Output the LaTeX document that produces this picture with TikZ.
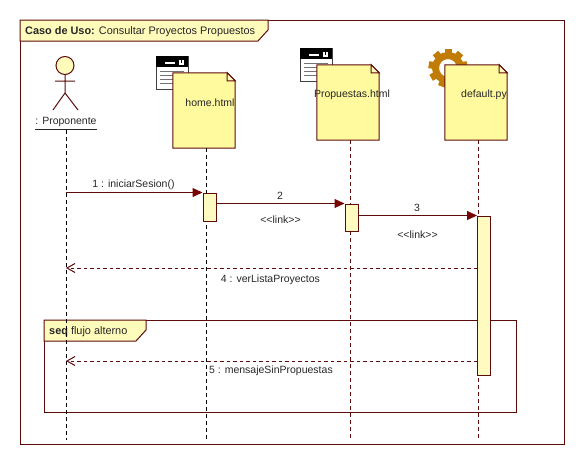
\documentclass[tikz,border=0pt]{standalone}
\usepackage{fontspec}
\setmainfont{Liberation Sans}
\usetikzlibrary{arrows.meta,calc}
\definecolor{umlline}{HTML}{5E0B0B}
\definecolor{umlhead}{HTML}{7A0404}
\definecolor{umlnote}{HTML}{FFFA9E}
\definecolor{umlbar}{HTML}{FFFBC0}
\definecolor{umlgear}{HTML}{C07C06}
\tikzset{
    every node/.style={font=\fontsize{10.5}{12}\selectfont,text=black!85,inner sep=0pt},
    tabtext/.style={font=\fontsize{10.9}{12}\selectfont,anchor=west},
    frameline/.style={draw=umlline,line width=1pt},
    tabbox/.style={frameline,fill=umlnote!70!white},
    lifeline/.style={dashed,dash pattern=on 3.5pt off 3.5pt,line width=1pt},
    notebox/.style={minimum width=62pt,minimum height=75pt},
    actbox/.style={frameline,fill=umlbar,minimum width=13pt},
    msgcall/.style={umlline,line width=1pt,-{Triangle[length=10pt,width=9pt,color=umlhead]}},
    msgback/.style={umlline,line width=1pt,dashed,dash pattern=on 3.5pt off 3pt,-{Straight Barb[length=8pt,width=9pt]}}
}
% window icon behind a note
\newcommand{\windowicon}[2]{
    \begin{scope}[shift={(#1,#2)}]
        \fill[white] (0,0) rectangle (32,33);
        \draw[black!75,line width=1pt] (0,0) rectangle (32,33);
        \fill[black] (0,0) rectangle (32,11);
        \draw[white,line width=1.4pt] (9,7) -- (19,7);
        \draw[white,line width=1.4pt] (24,4) -- (24,8) -- (27,8) -- (27,4);
        \foreach \ly in {15,19,23,27}
            \draw[black!55,line width=1pt] (4,\ly) -- (28,\ly);
    \end{scope}
}
\newcommand{\stereo}{{<}{<}link{>}{>}}
\begin{document}
\begin{tikzpicture}[x=1pt,y=-1pt]
    \useasboundingbox (0,0) rectangle (584,464);

    % outer frame and title tab
    \draw[frameline] (20,20) rectangle (564,444);
    \draw[tabbox] (20,20) -- (268,20) -- (268,30) -- (258,41) -- (20,41) -- cycle;
    \node[tabtext] (title) at (25,32) {\textbf{Caso de Uso:} Consultar Proyectos Propuestos};

    % fragment
    \draw[frameline] (44,320) rectangle (516,412);
    \draw[tabbox] (44,320) -- (146,320) -- (146,330) -- (136,341) -- (44,341) -- cycle;
    \node[tabtext] (seqtitle) at (49,332) {\textbf{seq} flujo alterno};

    % icons
    \windowicon{156}{56}
    \windowicon{300}{48}
    \begin{scope}[shift={(448,68)}]
        \foreach \a in {0,40,...,320}
            \fill[umlgear,rotate=\a] (-3.5,-19.5) rectangle (3.5,-12);
        \draw[umlgear,line width=7pt] (0,0) circle (12.5);
    \end{scope}

    % actor
    \node[circle,draw=umlline,line width=1pt,fill=umlnote!70!white,minimum size=18pt] (head) at (65,65.5) {};
    \coordinate (hip) at (65,93);
    \coordinate (armL) at (55,81);
    \coordinate (armR) at (75,81);
    \coordinate (footL) at (53,110);
    \coordinate (footR) at (78,110);
    \draw[umlline,line width=1pt] (head) -- (hip) (armL) -- (armR) (footL) -- (hip) -- (footR);
    \node (Prop) at (66,122) {: Proponente};
    \draw[black!85,line width=.8pt] ($(Prop.south west)+(0,2)$) -- ($(Prop.south east)+(0,2)$);

    % notes
    \foreach \nname/\nx/\ny in {Home/204/110.5,Pages/348/102.5,Script/476/102.5} {
        \node[notebox] (\nname) at (\nx,\ny) {};
        \draw[frameline,fill=umlnote]
            (\nname.north west) -- ($(\nname.north east)+(-8,0)$) -- ($(\nname.north east)+(0,8)$)
            -- (\nname.south east) -- (\nname.south west) -- cycle;
        \draw[frameline,fill=umlnote!60!white]
            ($(\nname.north east)+(-8,0)$) -- ($(\nname.north east)+(-8,8)$) -- ($(\nname.north east)+(0,8)$) -- cycle;
    }
    \node (HomeText) at (210,103) {home.html};
    \node (PagesText) at (352,95) {Propuestas.html};
    \node (ScriptText) at (484,95) {default.py};

    % lifelines
    \coordinate (PropEnd) at (66,440);
    \coordinate (HomeEnd) at (206,440);
    \coordinate (PagesEnd) at (350,440);
    \coordinate (ScriptEnd) at (478,438);
    \draw[lifeline,black] (66,130) -- (PropEnd);
    \draw[lifeline,black] (HomeEnd |- Home.south) -- (HomeEnd);
    \draw[lifeline,umlline] (PagesEnd |- Pages.south) -- (PagesEnd);
    \draw[lifeline,umlline] (ScriptEnd |- Script.south) -- (ScriptEnd);

    % activations
    \node[actbox,minimum height=28pt] (act1) at (209.5,207) {};
    \node[actbox,minimum height=27pt] (act2) at (351.5,217.5) {};
    \node[actbox,minimum height=159pt] (act3) at (484,295.5) {};

    % messages
    \coordinate (back4) at (act3.west |- 0,268);
    \coordinate (back5) at (act3.west |- 0,361);
    \draw[msgcall] (PropEnd |- act1.north) -- (act1.north west);
    \draw[msgcall] (act2.north west -| act1.east) -- (act2.north west);
    \draw[msgcall] (act3.north west -| act2.east) -- (act3.north west);
    \draw[msgback] (back4) -- (PropEnd |- back4);
    \draw[msgback] (back5) -- (PropEnd |- back5);

    \node (m1) at (133.5,185) {1 : iniciarSesion()};
    \node (m2) at (280,196) {2};
    \node (m2s) at (280.5,220) {\stereo};
    \node (m3) at (417,208) {3};
    \node (m3s) at (417.5,235) {\stereo};
    \node (m4) at (270.5,280) {4 : verListaProyectos};
    \node (m5) at (271,371) {5 : mensajeSinPropuestas};
\end{tikzpicture}
\end{document}
